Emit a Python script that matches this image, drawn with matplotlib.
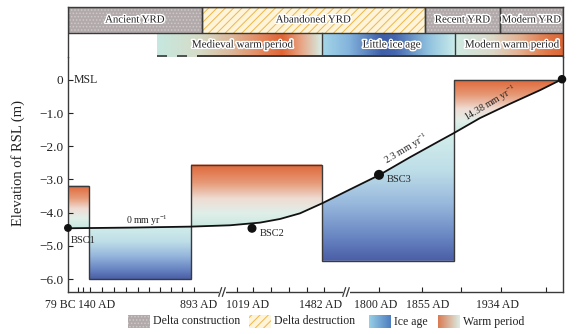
import numpy as np
import matplotlib
matplotlib.use("Agg")
import matplotlib.pyplot as plt
from matplotlib.colors import LinearSegmentedColormap
from matplotlib.patches import Polygon, Rectangle
import matplotlib.patheffects as pe
import matplotlib.transforms as mtrans

plt.rcParams['font.family'] = ['Liberation Serif', 'DejaVu Serif']
plt.rcParams['mathtext.fontset'] = 'custom'
plt.rcParams['mathtext.rm'] = 'Liberation Serif'
plt.rcParams['mathtext.it'] = 'Liberation Serif:italic'
plt.rcParams['hatch.linewidth'] = 0.7

# ---------------- data (x in compressed-axis units) ----------------
x_labels = ['79 BC', '140 AD', '893 AD', '1019 AD', '1482 AD', '1800 AD', '1855 AD', '1934 AD']
x_label_pos = [-8, 29, 131, 180, 253, 308, 360, 429]
x_minor_ticks = [9.5, 15, 22, 34, 46, 58, 70, 81, 92, 103, 114, 126,
                 169, 185, 203, 221, 239, 256, 311, 354, 393, 433, 478]
x_breaks = [154, 278]

y_ticks = [0, -1, -2, -3, -4, -5, -6]
y_ticklabels = ['0', '\u22121.0', '\u22122.0', '\u22123.0', '\u22124.0', '\u22125.0', '\u22126.0']

# RSL curve
rsl_x = np.array([0, 62, 123, 162, 192, 212, 232, 254, 282, 311, 342, 372, 386, 412, 442, 472, 494])
rsl_y = np.array([-4.47, -4.45, -4.42, -4.38, -4.30, -4.19, -4.02, -3.72, -3.30, -2.87,
                  -2.33, -1.83, -1.60, -1.15, -0.72, -0.31, 0.02])

# climate boxes: warm -> level above curve, ice -> level below curve
box_x0 = [0, 21, 123, 254, 386]
box_x1 = [21, 123, 254, 386, 494]
box_level = [-3.19, -6.0, -2.55, -5.45, 0.0]
box_kind = ['warm', 'ice', 'warm', 'ice', 'warm']

# cores
core_names = ['BSC1', 'BSC2', 'BSC3', '']
core_x = [0, 184, 311, 494]
core_y = [-4.46, -4.47, -2.86, 0.02]

# rates
rate_text = ['0 mm yr$^{-1}$', '2.3 mm yr$^{-1}$', '14.38 mm yr$^{-1}$']
rate_x = [79, 338, 423]
rate_y = [-4.25, -2.10, -0.72]
rate_rot = [0, 31, 31]

# header rows
row1_names = ['Ancient YRD', 'Abandoned YRD', 'Recent YRD', 'Modern YRD']
row1_edges = [0, 134, 357, 432, 495]
row1_kind = ['construction', 'destruction', 'construction', 'construction']
row2_names = ['Medieval warm period', 'Little ice age', 'Modern warm period']
row2_edges = [89, 254, 387, 495]

# ---------------- colormaps ----------------
warm_v = LinearSegmentedColormap.from_list('warm_v', [
    (0, '#df6637'), (0.3, '#e79a78'), (0.55, '#efdcd3'), (0.78, '#e0efe9'), (1, '#c8e8e1')])
ice_v = LinearSegmentedColormap.from_list('ice_v', [
    (0, '#d3eeea'), (0.3, '#bddde8'), (0.55, '#98b8dd'), (0.8, '#6b88c4'), (1, '#4a5ea6')])
mwp_h = LinearSegmentedColormap.from_list('mwp', [
    (0, '#c6e8e0'), (0.25, '#d5dcc8'), (0.45, '#dcb89a'), (0.62, '#e48a62'),
    (0.76, '#e06434'), (0.88, '#e8a888'), (1, '#d4ece4')])
lia_h = LinearSegmentedColormap.from_list('lia', [
    (0, '#a4d6e8'), (0.2, '#84b4dc'), (0.45, '#3e5fa9'), (0.55, '#4466ae'),
    (0.8, '#8fc1de'), (1, '#c9ebea')])
mod_h = LinearSegmentedColormap.from_list('mod', [
    (0, '#d0ece4'), (0.35, '#dcd8c8'), (0.6, '#e4b090'), (0.85, '#e07848'), (1, '#dd6535')])
ice_leg = LinearSegmentedColormap.from_list('il', ['#97cfe6', '#4e7dc0'])
warm_leg = LinearSegmentedColormap.from_list('wl', ['#d97a52', '#dbeee6'])

GRAY = '#b2aaaa'
DOT = '#cfc9c9'
YEL = '#fdf4da'
HATCH = '#f0b548'
EDGE = '#3a3a3a'
TXT = '#222222'

W, H = 579, 334
fig = plt.figure(figsize=(W / 100, H / 100), dpi=100)

def fx(px):
    return px / W

def fy(py):
    return 1 - py / H

ax = fig.add_axes([fx(68), fy(292), 495 / W, (292 - 57) / H])
hx = fig.add_axes([fx(68), fy(57), 495 / W, 50 / H])

# ---------------- main panel ----------------
grad = np.linspace(0, 1, 256).reshape(-1, 1)
for x0, x1, lev, kind in zip(box_x0, box_x1, box_level, box_kind):
    inside = (rsl_x > x0) & (rsl_x < x1)
    xs = np.concatenate([[x0], rsl_x[inside], [x1]])
    ys = np.interp(xs, rsl_x, rsl_y)
    verts = list(zip(xs, ys)) + [(x1, lev), (x0, lev)]
    if kind == 'warm':
        top, bot, cmap = lev, ys.min(), warm_v
    else:
        top, bot, cmap = ys.max(), lev, ice_v
    poly = Polygon(verts, closed=True, facecolor='none', edgecolor='none')
    ax.add_patch(poly)
    im = ax.imshow(grad, cmap=cmap, extent=[x0, x1, bot, top], aspect='auto',
                   origin='upper', zorder=1, interpolation='bilinear')
    im.set_clip_path(poly)

# step outline
ox, oy = [], []
for i in range(len(box_x0)):
    ox += [box_x0[i], box_x1[i]]
    oy += [box_level[i], box_level[i]]
ax.plot(ox, oy, color=EDGE, lw=1.0, zorder=3, solid_joinstyle='miter')

ax.plot(rsl_x, rsl_y, color='#111111', lw=1.3, zorder=4)
ax.scatter(core_x, core_y, s=[22, 30, 38, 26], color='#111111', zorder=5, clip_on=False)
name_dx = [3, 8, 8]
name_dy = [-0.38, -0.16, -0.14]
for n, x, y, dx, dy in zip(core_names[:3], core_x, core_y, name_dx, name_dy):
    ax.text(x + dx, y + dy, n, fontsize=7.5, ha='left', va='center', color=TXT, zorder=6)

for t, x, y, r in zip(rate_text, rate_x, rate_y, rate_rot):
    ax.text(x, y, t, fontsize=7, ha='center', va='center', rotation=r,
            rotation_mode='anchor', color=TXT, zorder=6)

ax.text(6, 0, 'MSL', fontsize=8.5, ha='left', va='center', color=TXT)

ax.set_xlim(0, 495)
ax.set_ylim(-6.39, 0.69)
ax.set_yticks(y_ticks)
ax.set_yticklabels(y_ticklabels, fontsize=9.5)
ax.tick_params(axis='y', direction='in', length=3.5, width=0.8, pad=3.5, colors=TXT)
ax.set_xticks(x_minor_ticks)
ax.set_xticklabels([])
ax.tick_params(axis='x', direction='in', length=3.5, width=0.8, colors=TXT)
for s in ['left', 'bottom', 'right']:
    ax.spines[s].set_color(EDGE)
    ax.spines[s].set_linewidth(1.0)
ax.spines['top'].set_visible(False)

tb = mtrans.blended_transform_factory(ax.transData, ax.transAxes)
for lab, pos in zip(x_labels, x_label_pos):
    ax.text(pos, -0.03, lab, transform=tb, ha='center', va='top', fontsize=8.5,
            color=TXT, clip_on=False)
for b in x_breaks:
    ax.add_patch(Rectangle((b - 3.5, -0.012), 7, 0.024, transform=tb, facecolor='white',
                           edgecolor='none', clip_on=False, zorder=6))
    for d in (-1.8, 1.8):
        ax.plot([b + d - 1.4, b + d + 1.4], [-0.018, 0.018], transform=tb, color=EDGE,
                lw=0.9, clip_on=False, zorder=7)

ax.set_ylabel('Elevation of RSL (m)', fontsize=10.5, color=TXT)
ax.yaxis.set_label_coords(-0.087, 0.55)

# ---------------- header ----------------
hx.set_xticks([])
hx.set_yticks([])
for s in ['left', 'right', 'top']:
    hx.spines[s].set_color(EDGE)
    hx.spines[s].set_linewidth(1.0)
hx.spines['bottom'].set_visible(False)

halo = [pe.withStroke(linewidth=2.2, foreground='white')]
for name, a, b, kind in zip(row1_names, row1_edges[:-1], row1_edges[1:], row1_kind):
    if kind == 'construction':
        hx.add_patch(Rectangle((a, 24), b - a, 26, facecolor=GRAY, edgecolor='none', zorder=1))
        hx.add_patch(Rectangle((a, 24), b - a, 26, facecolor='none', edgecolor=DOT,
                               hatch='.....', lw=0, zorder=2))
    else:
        hx.add_patch(Rectangle((a, 24), b - a, 26, facecolor=YEL, edgecolor='none', zorder=1))
        hx.add_patch(Rectangle((a, 24), b - a, 26, facecolor='none', edgecolor=HATCH,
                               hatch='////', lw=0, zorder=2))
    hx.add_patch(Rectangle((a, 24), b - a, 26, facecolor='none', edgecolor=EDGE, lw=1.0, zorder=3))
    hx.text((a + b) / 2, 37, name, ha='center', va='center', fontsize=7.8, color=TXT,
            path_effects=halo, zorder=4)

hgrad = np.linspace(0, 1, 256).reshape(1, -1)
for name, a, b, cm in zip(row2_names, row2_edges[:-1], row2_edges[1:], [mwp_h, lia_h, mod_h]):
    hx.imshow(hgrad, cmap=cm, extent=[a, b, 0, 24], aspect='auto', zorder=1,
              interpolation='bilinear')
    hx.text((a + b) / 2 + 3, 12, name, ha='center', va='center', fontsize=8, color=TXT,
            path_effects=halo, zorder=4)
for e in row2_edges[1:-1]:
    hx.plot([e, e], [0, 24], color=EDGE, lw=1.0, zorder=3)
hx.plot([row2_edges[0], 130], [0.6, 0.6], color=EDGE, lw=1.2, dashes=(6, 6), zorder=3,
        clip_on=False)
hx.plot([130, 495], [0.6, 0.6], color=EDGE, lw=1.4, zorder=3, clip_on=False)
hx.set_xlim(0, 495)
hx.set_ylim(0, 50)

# ---------------- legend ----------------
lg = fig.add_axes([0, 0, 1, 1], zorder=-1)
lg.axis('off')
leg_labels = ['Delta construction', 'Delta destruction', 'Ice age', 'Warm period']
leg_px = [128, 249, 369, 438]
for i, (lab, px) in enumerate(zip(leg_labels, leg_px)):
    if i == 0:
        lg.add_patch(Rectangle((px, 315), 22, 13, facecolor=GRAY, edgecolor='none'))
        lg.add_patch(Rectangle((px, 315), 22, 13, facecolor='none', edgecolor=DOT,
                               hatch='.....', lw=0))
    elif i == 1:
        lg.add_patch(Rectangle((px, 315), 22, 13, facecolor=YEL, edgecolor='none'))
        lg.add_patch(Rectangle((px, 315), 22, 13, facecolor='none', edgecolor=HATCH,
                               hatch='////', lw=0))
    else:
        cm = ice_leg if i == 2 else warm_leg
        lg.imshow(hgrad, cmap=cm, extent=[px, px + 22, 328, 315], aspect='auto',
                  interpolation='bilinear')
    lg.text(px + 25, 321.5, lab, ha='left', va='center', fontsize=8.5, color=TXT)
lg.set_xlim(0, W)
lg.set_ylim(H, 0)

fig.savefig('out.png', dpi=100)
